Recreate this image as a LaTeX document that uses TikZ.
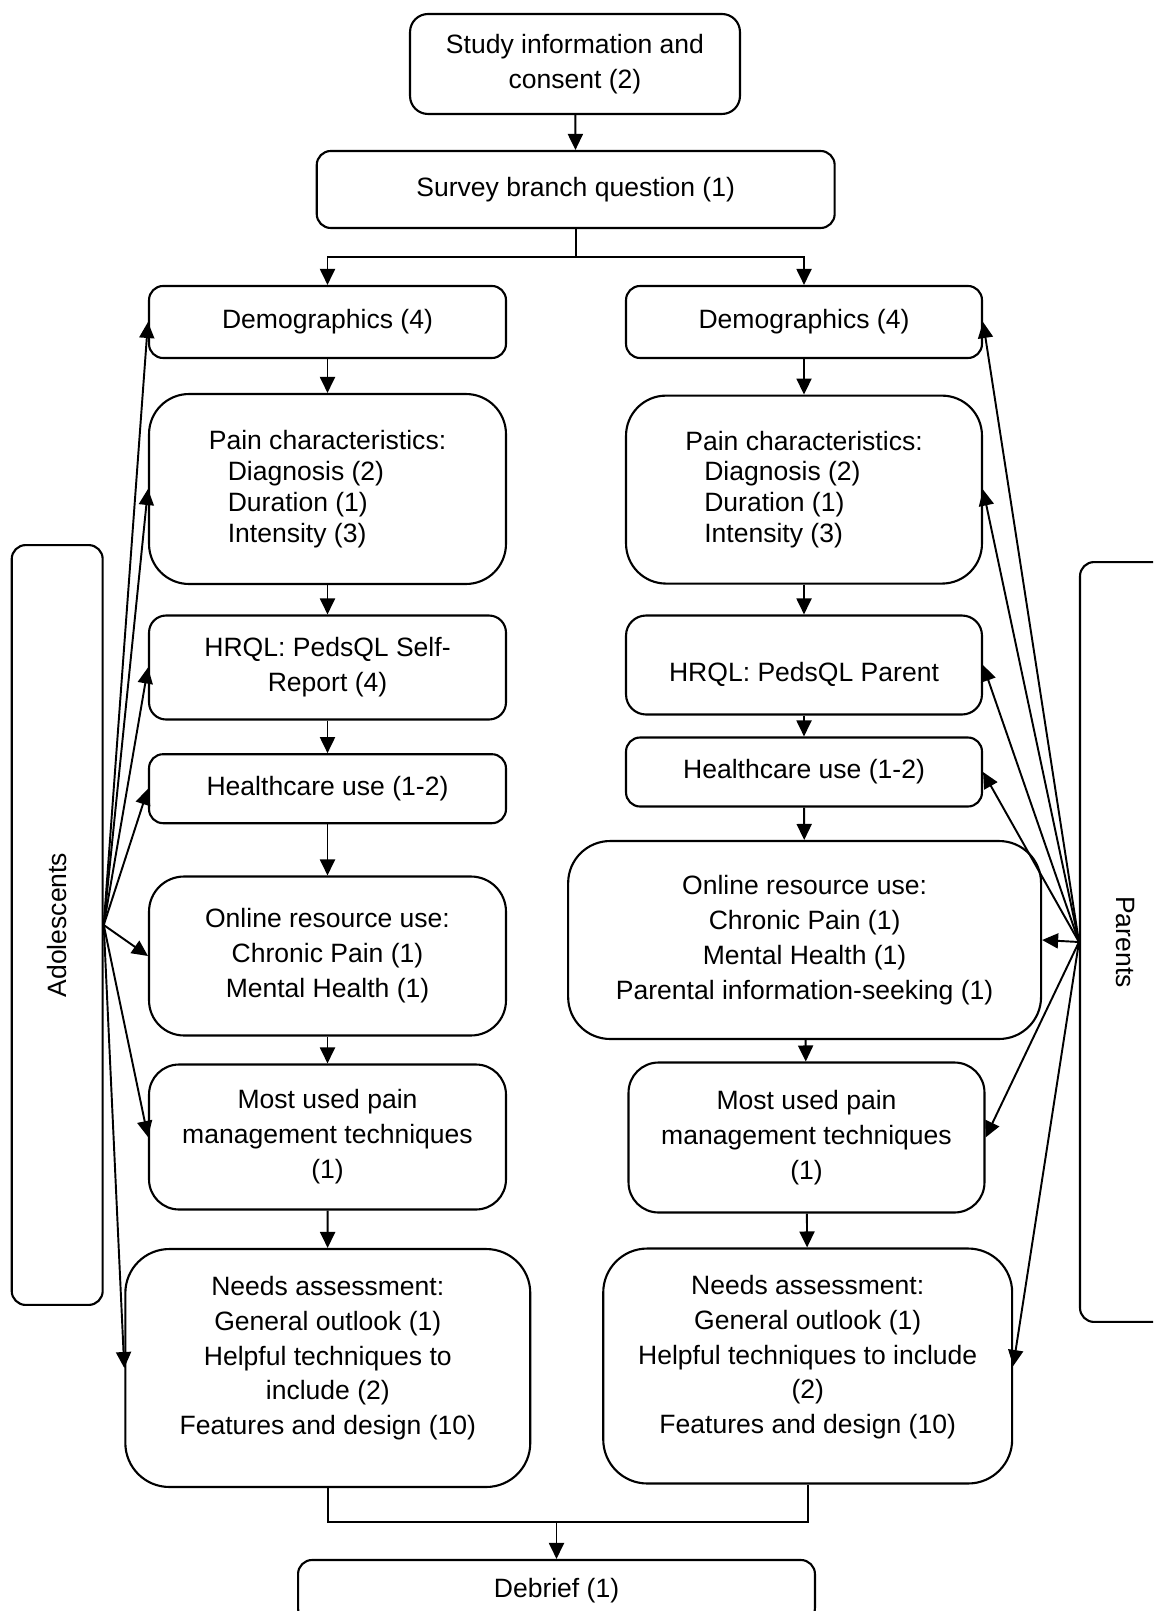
\documentclass[tikz,border=0pt]{standalone}
\usepackage{fontspec}
\setmainfont{Liberation Sans}
\usepackage{graphicx}
\usetikzlibrary{arrows.meta}

\tikzset{
  stage/.style={draw, line width=1.2pt, rounded corners=0.28cm, align=center,
    font=\fontsize{15.1pt}{19.9pt}\selectfont, inner sep=2pt},
  painbox/.style={stage, align=left, rounded corners=0.8cm, minimum height=3.8cm,
    font=\fontsize{15.1pt}{17.6pt}\selectfont},
  flow/.style={-{Triangle[length=0.32cm,width=0.3cm]}, line width=1.1pt},
}

\begin{document}
\begin{tikzpicture}[x=0.02cm, y=-0.02cm]
    \newcommand{\colL}{327.5}
    \newcommand{\colR}{804}
    \newcommand{\shiftup}[2]{\raisebox{#1}[\height][\depth]{#2}}
    \newcommand{\ind}{\hspace*{0.38cm}}
    \useasboundingbox (0,0) rectangle (1153,1611);
    \clip (0,0) rectangle (1153,1611);

    % top of the survey
    \node[stage, rounded corners=0.36cm, minimum width=6.6cm, minimum height=2cm] (study) at (575,64) {Study information and\\consent (2)};
    \node[stage, minimum width=10.36cm, minimum height=1.54cm] (survey) at (575.7,189.5) {Survey branch question (1)};
    \coordinate (branch) at (575.7,257);

    % adolescent branch
    \node[stage, minimum width=7.14cm, minimum height=1.44cm] (demoL) at (\colL,322) {Demographics (4)};
    \node[painbox, minimum width=7.14cm] (painL) at (\colL,489) {Pain characteristics:\\\ind Diagnosis (2)\\\ind Duration (1)\\\ind Intensity (3)};
    \node[stage, rounded corners=0.34cm, minimum width=7.14cm, minimum height=2.08cm] (hrqlL) at (\colL,667.5) {HRQL: PedsQL Self-\\Report (4)};
    \node[stage, minimum width=7.14cm, minimum height=1.38cm] (healthL) at (\colL,788.7) {Healthcare use (1-2)};
    \node[stage, rounded corners=0.7cm, minimum width=7.14cm, minimum height=3.18cm] (onlineL) at (\colL,956) {Online resource use:\\Chronic Pain (1)\\Mental Health (1)};
    \node[stage, rounded corners=0.6cm, minimum width=7.14cm, minimum height=2.9cm] (mostL) at (\colL,1137) {Most used pain\\management techniques\\(1)};
    \node[stage, rounded corners=0.88cm, minimum width=8.1cm, minimum height=4.76cm] (needsL) at (327.8,1368) {\shiftup{0.2cm}{\begin{tabular}{@{}c@{}}Needs assessment:\\General outlook (1)\\Helpful techniques to\\include (2)\\Features and design (10)\end{tabular}}};

    % parent branch
    \node[stage, minimum width=7.12cm, minimum height=1.44cm] (demoR) at (\colR,322) {Demographics (4)};
    \node[painbox, minimum width=7.12cm, minimum height=3.76cm] (painR) at (\colR,489.6) {Pain characteristics:\\\ind Diagnosis (2)\\\ind Duration (1)\\\ind Intensity (3)};
    \node[stage, rounded corners=0.4cm, minimum width=7.12cm, minimum height=1.98cm] (hrqlR) at (\colR,665) {\shiftup{-0.18cm}{HRQL: PedsQL Parent}};
    \node[stage, minimum width=7.12cm, minimum height=1.38cm] (healthR) at (\colR,772) {Healthcare use (1-2)};
    \node[stage, rounded corners=0.84cm, minimum width=9.46cm, minimum height=3.96cm] (onlineR) at (804.6,940) {Online resource use:\\Chronic Pain (1)\\Mental Health (1)\\Parental information-seeking (1)};
    \node[stage, rounded corners=0.6cm, minimum width=7.12cm, minimum height=3cm] (mostR) at (806.5,1137.5) {Most used pain\\management techniques\\(1)};
    \node[stage, rounded corners=0.88cm, minimum width=8.18cm, minimum height=4.7cm] (needsR) at (807.7,1366) {\shiftup{0.18cm}{\begin{tabular}{@{}c@{}}Needs assessment:\\General outlook (1)\\Helpful techniques to include\\(2)\\Features and design (10)\end{tabular}}};

    % end
    \coordinate (merge) at (556.5,1522);
    \node[stage, minimum width=10.34cm, minimum height=1.24cm] (debrief) at (556.5,1591) {Debrief (1)};

    % respondent groups
    \node[stage, minimum width=1.82cm, minimum height=15.2cm] (adol) at (57.2,925) {\rotatebox{90}{Adolescents}};
    \node[stage, minimum width=1.82cm, minimum height=15.2cm] (par) at (1125.5,942) {\rotatebox{-90}{Parents}};

    \draw[line width=1.1pt] (survey) -- (branch);
    \draw[flow] (branch) -| (demoL.north);
    \draw[flow] (branch) -| (demoR.north);
    \foreach \a/\b in {study/survey, demoL/painL, painL/hrqlL, hrqlL/healthL, healthL/onlineL, onlineL/mostL, mostL/needsL, demoR/painR, painR/hrqlR, hrqlR/healthR, healthR/onlineR, onlineR/mostR, mostR/needsR}
      \draw[flow] (\a) -- (\b);

    \foreach \n in {demoL,painL,hrqlL,healthL,onlineL,mostL,needsL}
      \draw[flow] (adol.east) -- (\n.west);
    \foreach \n in {demoR,painR,hrqlR,healthR,onlineR,mostR,needsR}
      \draw[flow] (par.west) -- (\n.east);

    \draw[line width=1.1pt] (needsL.south) |- (merge) -| (needsR.south);
    \draw[flow] (merge) -- (debrief);
\end{tikzpicture}
\end{document}
